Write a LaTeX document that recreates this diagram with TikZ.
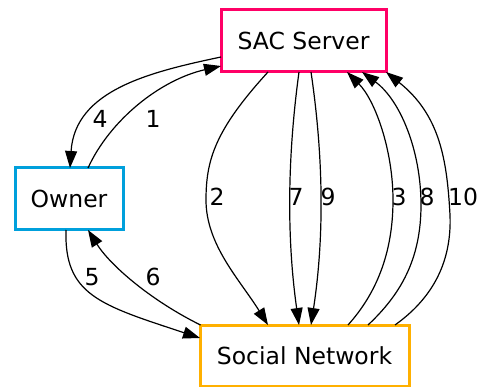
\documentclass[tikz,border=0pt]{standalone}
\usepackage{fontspec}
\setmainfont{DejaVu Sans}
\usetikzlibrary{arrows.meta,calc}
\definecolor{sacpink}{RGB}{255,0,102}
\definecolor{ownerblue}{RGB}{0,160,220}
\definecolor{socialorange}{RGB}{255,176,0}
\begin{document}
\begin{tikzpicture}[x=1pt,y=-1pt,
  box/.style={draw,line width=3pt,fill=white,inner sep=0pt,outer sep=0pt,
    font=\fontsize{23.5}{28}\selectfont},
  edge/.style={line width=1.2pt,-{Triangle[length=17pt,width=12pt]}},
  lbl/.style={font=\fontsize{23.5}{28}\selectfont,inner sep=0pt}]
\useasboundingbox (0,0) rectangle (479,387);
\node[box,draw=sacpink,minimum width=165pt,minimum height=62pt] (sac) at (303.5,41) {SAC Server};
\node[box,draw=ownerblue,minimum width=108pt,minimum height=62pt] (own) at (69,199) {Owner};
\node[box,draw=socialorange,minimum width=209pt,minimum height=61pt] (soc) at (304.5,355.5) {Social Network};
% 4 : SAC -> Owner
\draw[edge] ($(sac.west)+(0,16)$) .. controls (150,72) and (75,90) .. ($(own.north)+(1,0)$);
\node[lbl] (l4) at (100,119) {4};
% 1 : Owner -> SAC
\draw[edge] ($(own.north)+(19,0)$) .. controls (110,120) and (160,80) .. ($(sac.west)+(0,25)$);
\node[lbl] (l1) at (153,119) {1};
% 2 : SAC -> Social
\draw[edge] ($(sac.south)+(-35.5,0)$) .. controls (215,130) and (206,160) .. (206,200)
  .. controls (206,245) and (240,280) .. ($(soc.north)+(-36.5,0)$);
\node[lbl] (l2) at (217,197) {2};
% 7 : SAC -> Social
\draw[edge] ($(sac.south)+(-4.5,0)$) .. controls (287,160) and (287,240) .. ($(soc.north)+(-5.5,0)$);
\node[lbl] (l7) at (296,197) {7};
% 9 : SAC -> Social
\draw[edge] ($(sac.south)+(7.5,0)$) .. controls (324,160) and (324,240) .. ($(soc.north)+(6.5,0)$);
\node[lbl] (l9) at (328,197) {9};
% 3 : Social -> SAC
\draw[edge] ($(soc.north)+(43.5,0)$) .. controls (375,295) and (393,255) .. (393,200)
  .. controls (393,150) and (375,100) .. ($(sac.south)+(43.5,0)$);
\node[lbl] (l3) at (399,197) {3};
% 8 : Social -> SAC
\draw[edge] ($(soc.north)+(63.5,0)$) .. controls (400,295) and (421,260) .. (421,205)
  .. controls (421,150) and (400,100) .. ($(sac.south)+(58.5,0)$);
\node[lbl] (l8) at (427,197) {8};
% 10 : Social -> SAC
\draw[edge] ($(soc.north)+(90.5,0)$) .. controls (430,300) and (452,265) .. (450,215)
  .. controls (447,160) and (440,115) .. ($(sac.south)+(82.5,0)$);
\node[lbl] (l10) at (463,197) {10};
% 5 : Owner -> Social
\draw[edge] ($(own.south)+(-3,0)$) .. controls (64,295) and (100,305) .. ($(soc.west)+(0,-17.5)$);
\node[lbl] (l5) at (92,277) {5};
% 6 : Social -> Owner
\draw[edge] ($(soc.north west)+(0.5,0)$) .. controls (150,300) and (110,265) .. ($(own.south)+(19,0)$);
\node[lbl] (l6) at (153,277) {6};
\end{tikzpicture}
\end{document}
